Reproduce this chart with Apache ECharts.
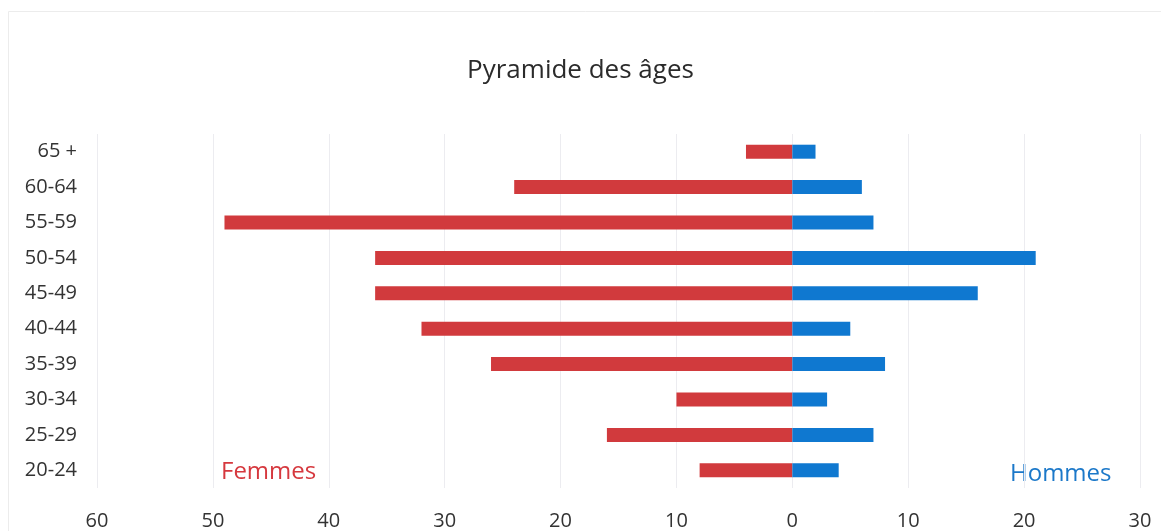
<!DOCTYPE html>
<html>
<head>
<meta charset="utf-8">
<script src="https://cdn.jsdelivr.net/npm/echarts@6/dist/echarts.min.js"></script>
<style>html,body{margin:0;padding:0;background:#fff}#c{width:1161px;height:531px}</style>
</head>
<body>
<div id="c"></div>
<script>
const categories = ['20-24','25-29','30-34','35-39','40-44','45-49','50-54','55-59','60-64','65 +'];
const femmes = [8,16,10,26,32,36,36,49,24,4];
const hommes = [4,7,3,8,5,16,21,7,6,2];
const xTicks = [-60,-50,-40,-30,-20,-10,0,10,20,30];

const font = '"Open Sans", "Noto Sans", sans-serif';
const chart = echarts.init(document.getElementById('c'));
chart.setOption({
  backgroundColor: '#fff',
  animation: false,
  title: {
    text: 'Pyramide des âges', left: 'center', top: 53,
    textStyle: {fontFamily: font, fontSize: 26, fontWeight: 'normal', color: '#2b2b2b'}
  },
  grid: {left: 97, right: 21, top: 134, bottom: 39, containLabel: false},
  xAxis: {
    type: 'value', min: xTicks[0], max: xTicks[xTicks.length-1], interval: 10,
    axisLine: {show: false}, axisTick: {show: false},
    splitLine: {lineStyle: {color: '#ececf0', width: 1}},
    axisLabel: {
      formatter: v => String(Math.abs(v)), margin: 23,
      fontFamily: font, fontSize: 20, color: '#333'
    }
  },
  yAxis: {
    type: 'category', data: categories,
    axisLine: {show: false}, axisTick: {show: false},
    axisLabel: {margin: 20, fontFamily: font, fontSize: 20, color: '#333'}
  },
  series: [
    {name: 'Femmes', type: 'bar', stack: 'p', barWidth: 14,
     data: femmes.map(v => -v), itemStyle: {color: '#d13a3d'}},
    {name: 'Hommes', type: 'bar', stack: 'p', barWidth: 14,
     data: hommes, itemStyle: {color: '#0f78d0'}}
  ],
  graphic: [
    {type: 'rect', shape: {x: 8.5, y: 11.5, width: 1170, height: 540}, silent: true,
     style: {fill: 'none', stroke: '#ececec', lineWidth: 1}},
    {type: 'text', left: 221, top: 460, style: {text: 'Femmes', fontFamily: font, fontSize: 24, fill: '#d6383e'}},
    {type: 'text', left: 1010, top: 462, style: {text: 'Hommes', fontFamily: font, fontSize: 24, fill: '#1b78c9'}}
  ]
});
</script>
</body>
</html>
